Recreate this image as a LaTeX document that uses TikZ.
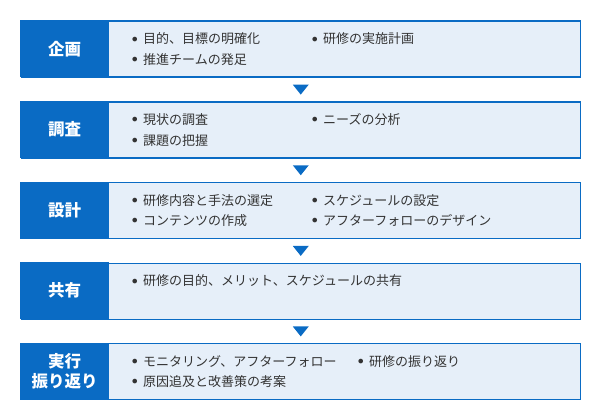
\documentclass[tikz,border=0pt]{standalone}
\usepackage{fontspec}
\setmainfont{Noto Sans CJK JP}
\newfontfamily\bulletfont{DejaVu Sans}
\usetikzlibrary{calc}

\definecolor{stepblue}{HTML}{0A6BC4}
\definecolor{panelfill}{HTML}{E6EFF9}
\definecolor{bodytext}{HTML}{333333}

\newcommand{\bul}{\makebox[13pt][l]{\raisebox{-1.2pt}{\bulletfont\fontsize{16}{15}\selectfont •}}}

\begin{document}
\begin{tikzpicture}[x=1pt,y=-1pt,
    panel/.style={draw=stepblue,line width=1.5pt,fill=panelfill,anchor=north west,
      minimum width=559,minimum height=56,inner sep=0pt},
    stage/.style={fill=stepblue,text=white,anchor=north west,minimum width=89,
      minimum height=57,inner sep=0pt,align=center,
      font=\bfseries\fontsize{16.5}{20}\selectfont},
    item/.style={anchor=west,inner sep=0pt,text=bodytext,font=\fontsize{13}{15}\selectfont}]
  \useasboundingbox (0,0) rectangle (600,420);

  % boxes for the five stages
  \foreach \n/\y/\lbl in {plan/20/企画,survey/100.7/調査,design/181.3/設計,share/262/共有,run/342.3/{実行\\振り返り}} {
    \node[panel] (\n) at (20.5,\y+0.5) {};
    \node[stage] (\n-tag) at (20,\y) {\lbl};
  }

  % markers between the stages
  \foreach \a/\b in {plan/survey,survey/design,design/share,share/run}
    \fill[stepblue] ($(\a.south)!0.5!(\b.north)$) ++(-8,-5) -- ++(16,0) -- ++(-8,10) -- cycle;

  \node[item] (plan-a) at (130,39) {\bul 目的、目標の明確化};
  \node[item] (plan-b) at (130,59.5) {\bul 推進チームの発足};
  \node[item] (plan-c) at (310,39) {\bul 研修の実施計画};

  \node[item] (survey-a) at (130,119.7) {\bul 現状の調査};
  \node[item] (survey-b) at (130,140.2) {\bul 課題の把握};
  \node[item] (survey-c) at (310,119.7) {\bul ニーズの分析};

  \node[item] (design-a) at (130,200.3) {\bul 研修内容と手法の選定};
  \node[item] (design-b) at (130,220.8) {\bul コンテンツの作成};
  \node[item] (design-c) at (310,200.3) {\bul スケジュールの設定};
  \node[item] (design-d) at (310,220.8) {\bul アフターフォローのデザイン};

  \node[item] (share-a) at (130,281) {\bul 研修の目的、メリット、スケジュールの共有};

  \node[item] (run-a) at (130,361.3) {\bul モニタリング、アフターフォロー};
  \node[item] (run-b) at (130,381.8) {\bul 原因追及と改善策の考案};
  \node[item] (run-c) at (356,361.3) {\bul 研修の振り返り};
  % \draw[very thin,gray] (0,0) grid[step=20] (600,420);
\end{tikzpicture}
\end{document}
